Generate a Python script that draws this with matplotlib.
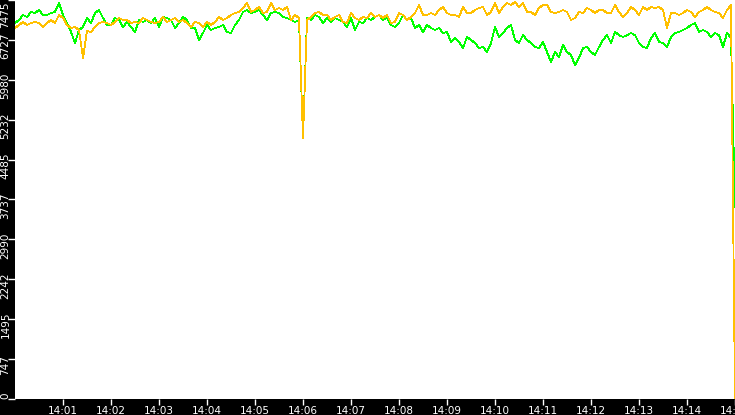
import numpy as np
import pandas as pd
import matplotlib
matplotlib.use("Agg")
import matplotlib.pyplot as plt
import matplotlib.dates as mdates
from matplotlib.transforms import ScaledTranslation, blended_transform_factory

# sample times (one reading every 5 s, 14:00:00 .. 14:15:00)
times = pd.date_range("2024-01-01 14:00:00", "2024-01-01 14:15:00", freq="5s")

green = [
    7044, 7100, 7194, 7157, 7250, 7231, 7288, 7194, 7194, 7231, 7250, 7419, 7194, 7044, 6876, 6669,
    6913, 6969, 7138, 7044, 7231, 7288, 7138, 7007, 7007, 7138, 7100, 6969, 7063, 6969, 6876, 7100,
    7063, 7100, 7044, 7138, 6969, 7157, 7138, 7100, 6950, 7044, 7157, 7100, 6950,
    6950, 6726, 6857, 7007, 6913, 6950, 6969, 7007, 6876, 6857, 7007, 7100, 7250, 7288, 7231, 7250,
    7288, 7194, 7100, 7231, 7250, 7231, 7157, 7138, 7100, 7063, 7100, 4890, 7138, 7100, 7194, 7157,
    7044, 7138, 7063, 7138, 7100, 7063, 6969, 7138, 6913, 7063, 7044, 7138, 7100,
    7157, 7194, 7100, 7138, 7007, 6969, 7044, 7194, 7100, 7138, 6950, 7007, 6876, 7007, 6950, 6913,
    6950, 6857, 6876, 6688, 6763, 6688, 6576, 6782, 6726, 6669, 6576, 6594, 6501, 6669, 6969, 6782,
    6857, 6950, 7007, 6726, 6669, 6818, 6726, 6669, 6594, 6576, 6688, 6501, 6313,
    6501, 6407, 6632, 6501, 6445, 6257, 6388, 6576, 6594, 6501, 6445, 6594, 6726, 6818, 6669, 6876,
    6818, 6782, 6818, 6857, 6818, 6669, 6594, 6576, 6763, 6857, 6688, 6669, 6594, 6782, 6857, 6876,
    6913, 6950, 7007, 7044, 6876, 6913, 6876, 6782, 6857, 6818, 6594, 6857, 6763,
    3600,
]

orange = [
    6950, 7007, 7063, 7007, 7044, 7063, 7044, 6969, 7044, 7100, 7044, 7194, 7138, 7007, 6950, 6969,
    6913, 6388, 6894, 6876, 6969, 7044, 7063, 7044, 7007, 7063, 7138, 7100, 7100, 7044, 7063, 7044,
    7138, 7100, 7063, 7044, 7063, 7157, 7063, 7100, 7138, 7063, 7100, 7044, 6969,
    7063, 7044, 6969, 7063, 7007, 7063, 7157, 7100, 7138, 7194, 7231, 7250, 7325, 7419, 7250, 7288,
    7344, 7231, 7250, 7419, 7288, 7325, 7288, 7344, 7100, 7194, 7138, 4890, 7100, 7157, 7231, 7250,
    7194, 7194, 7100, 7157, 7194, 7063, 7044, 7231, 7138, 7100, 7157, 7138, 7231,
    7157, 7194, 7138, 7194, 7044, 7063, 7231, 7194, 7100, 7157, 7231, 7381, 7194, 7194, 7231, 7194,
    7288, 7344, 7231, 7194, 7194, 7157, 7344, 7231, 7231, 7288, 7325, 7344, 7194, 7250, 7419, 7231,
    7344, 7419, 7381, 7438, 7344, 7419, 7250, 7250, 7194, 7325, 7381, 7381, 7250,
    7231, 7250, 7288, 7250, 7100, 7138, 7250, 7231, 7325, 7288, 7231, 7288, 7288, 7231, 7231, 7381,
    7250, 7157, 7231, 7344, 7288, 7194, 7344, 7288, 7344, 7325, 7344, 7288, 6950, 7231, 7231, 7194,
    7231, 7288, 7250, 7157, 7250, 7288, 7344, 7288, 7250, 7231, 7138, 7288, 7381,
    0,
]

y_max = 7475
y_ticks = np.linspace(0, y_max, 11)
y_labels = ["0", "747", "1495", "2242", "2990", "3737", "4485", "5232", "5980", "6727", "7475"]

# figure
fig = plt.figure(figsize=(7.35, 4.15), dpi=100, facecolor="black")
ax = fig.add_axes([15 / 735, 16 / 415, 720 / 735, 399 / 415])
ax.set_facecolor("white")

ax.plot(times, green, color="#00ff00", linewidth=0.6, antialiased=False)
ax.plot(times, orange, color="#ffc000", linewidth=0.6, antialiased=False)

ax.set_xlim(times[0], times[-1])
ax.set_ylim(0, y_max)
for s in ax.spines.values():
    s.set_visible(False)

# x axis (no label at 14:00, last one cut by the edge)
ax.xaxis.set_major_locator(mdates.MinuteLocator(byminute=range(1, 16)))
ax.xaxis.set_major_formatter(mdates.DateFormatter("%H:%M"))
ax.tick_params(axis="x", colors="white", labelcolor="white", length=4, width=1,
               pad=1, labelsize=7.5, direction="out")

# y axis: ticks only, labels drawn rotated beside them
ax.set_yticks(y_ticks)
ax.set_yticklabels([])
ax.tick_params(axis="y", colors="white", length=5, width=1, direction="out")

trans = blended_transform_factory(fig.transFigure, ax.transData)
for v, lab in zip(y_ticks, y_labels):
    if v == 0:
        va, dy = "bottom", 0
    elif v == y_max:
        va, dy = "top", -2
    else:
        va, dy = "center", -6
    t = trans + ScaledTranslation(0, dy / 100, fig.dpi_scale_trans)
    ax.text(5.5 / 735, v, lab, transform=t, rotation=90, color="white",
            fontsize=7.5, ha="center", va=va, clip_on=False)

plt.savefig("out.png", dpi=100, facecolor="black")
